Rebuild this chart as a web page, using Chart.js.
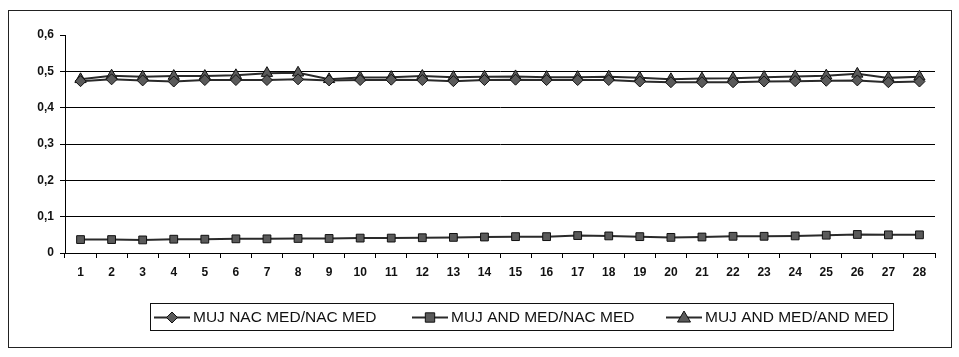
<!DOCTYPE html>
<html>
<head>
<meta charset="utf-8">
<script src="https://cdn.jsdelivr.net/npm/chart.js@4/dist/chart.umd.min.js"></script>
<style>
  html, body { margin: 0; padding: 0; background: #fff; }
  #wrap { position: relative; width: 959px; height: 357px; }
  #frame { position: absolute; left: 8px; top: 10px; width: 944px; height: 338px; border: 1px solid #222; box-sizing: border-box; pointer-events: none; }
  canvas { position: absolute; left: 0; top: 0; }
</style>
</head>
<body>
<div id="wrap">
  <canvas id="c" width="959" height="357"></canvas>
  <div id="frame"></div>
</div>
<script>
const categories = ['1','2','3','4','5','6','7','8','9','10','11','12','13','14','15','16','17','18','19','20','21','22','23','24','25','26','27','28'];
const seriesNames = ['MUJ NAC MED/NAC MED', 'MUJ AND MED/NAC MED', 'MUJ AND MED/AND MED'];
const mujNacMedNacMed = [0.473,0.478,0.475,0.472,0.476,0.476,0.476,0.478,0.475,0.476,0.477,0.476,0.473,0.476,0.477,0.476,0.476,0.476,0.472,0.470,0.470,0.470,0.472,0.473,0.474,0.475,0.470,0.472];
const mujAndMedNacMed = [0.037,0.037,0.036,0.038,0.038,0.039,0.039,0.040,0.040,0.041,0.041,0.042,0.043,0.044,0.045,0.045,0.048,0.047,0.045,0.043,0.044,0.046,0.046,0.047,0.049,0.051,0.050,0.050];
const mujAndMedAndMed = [0.478,0.488,0.485,0.487,0.487,0.489,0.495,0.496,0.478,0.483,0.484,0.487,0.484,0.485,0.486,0.484,0.484,0.485,0.482,0.478,0.480,0.481,0.484,0.486,0.488,0.493,0.482,0.485];
const yTicks = [0, 0.1, 0.2, 0.3, 0.4, 0.5, 0.6];

const markerFill = '#5a5a5a';
const lineCol = '#2a2a2a';

const styles = [
  { pointStyle: 'rectRot', radius: 5.5 },
  { pointStyle: 'rect', radius: 5.5 },
  { pointStyle: 'triangle', radius: 6.5 }
];

const datasets = [mujNacMedNacMed, mujAndMedNacMed, mujAndMedAndMed].map((d, i) => ({
  label: seriesNames[i],
  data: d,
  borderColor: lineCol,
  borderWidth: 2,
  backgroundColor: markerFill,
  pointBackgroundColor: markerFill,
  pointBorderColor: '#111',
  pointBorderWidth: 1,
  pointStyle: styles[i].pointStyle,
  pointRadius: styles[i].radius,
  tension: 0,
  fill: false
}));

const extras = {
  id: 'extras',
  afterDraw(chart) {
    const ctx = chart.ctx;
    const y = chart.scales.y;
    const py = Math.round(y.getPixelForValue(0.6)) + 0.5;
    ctx.save();
    ctx.strokeStyle = '#000';
    ctx.lineWidth = 1;
    ctx.beginPath();
    ctx.moveTo(y.right - 5, py);
    ctx.lineTo(y.right, py);
    ctx.stroke();

    // legend
    const bx = 150, by = 303, bw = 743, bh = 27;
    ctx.strokeStyle = '#111';
    ctx.strokeRect(bx + 0.5, by + 0.5, bw, bh);
    ctx.font = '15.5px "Liberation Sans", Arial, sans-serif';
    ctx.textBaseline = 'middle';
    const cy = by + bh / 2 + 1;
    const starts = [154, 412, 666];
    chart.data.datasets.forEach((ds, i) => {
      const x0 = starts[i];
      const lw = 36;
      ctx.strokeStyle = lineCol;
      ctx.lineWidth = 2;
      ctx.beginPath();
      ctx.moveTo(x0, cy);
      ctx.lineTo(x0 + lw, cy);
      ctx.stroke();
      ctx.fillStyle = markerFill;
      ctx.strokeStyle = '#111';
      ctx.lineWidth = 1;
      ctx.beginPath();
      const r = ds.pointRadius;
      const cx = x0 + lw / 2;
      if (ds.pointStyle === 'rectRot') {
        ctx.moveTo(cx, cy - r); ctx.lineTo(cx + r, cy); ctx.lineTo(cx, cy + r); ctx.lineTo(cx - r, cy); ctx.closePath();
      } else if (ds.pointStyle === 'rect') {
        const s = r * 0.85;
        ctx.rect(cx - s, cy - s, 2 * s, 2 * s);
      } else {
        ctx.moveTo(cx, cy - r); ctx.lineTo(cx + r, cy + r * 0.7); ctx.lineTo(cx - r, cy + r * 0.7); ctx.closePath();
      }
      ctx.fill();
      ctx.stroke();
      ctx.fillStyle = '#111';
      ctx.fillText(ds.label, x0 + lw + 3, cy);
    });
    ctx.restore();
  }
};

new Chart(document.getElementById('c'), {
  type: 'line',
  data: { labels: categories, datasets },
  options: {
    responsive: false,
    animation: false,
    devicePixelRatio: 1,
    layout: { padding: { left: 0, right: 24, top: 35, bottom: 74 } },
    plugins: { legend: { display: false }, tooltip: { enabled: false } },
    scales: {
      x: {
        offset: true,
        grid: { display: true, drawOnChartArea: false, drawTicks: true, tickLength: 5, color: '#000', offset: true },
        border: { display: true, color: '#000', width: 1 },
        ticks: { color: '#111', font: { family: '"Liberation Sans", Arial, sans-serif', size: 12, weight: 'bold' }, padding: 7, autoSkip: false, maxRotation: 0 },
        afterFit(s) { s.height = 30; }
      },
      y: {
        min: 0, max: 0.6,
        afterBuildTicks(s) { s.ticks = yTicks.map(v => ({ value: v })); },
        grid: {
          color: (c) => (c.tick && c.tick.value === 0.6) ? 'rgba(0,0,0,0)' : '#000',
          lineWidth: 1, drawTicks: true, tickLength: 5
        },
        border: { display: true, color: '#000', width: 1 },
        ticks: {
          color: '#111',
          font: { family: '"Liberation Sans", Arial, sans-serif', size: 12, weight: 'bold' },
          padding: 6,
          callback: (v) => v === 0 ? '0' : Number(v).toFixed(1).replace('.', ',')
        },
        afterFit(s) { s.width = 65; }
      }
    }
  },
  plugins: [extras]
});
</script>
</body>
</html>
